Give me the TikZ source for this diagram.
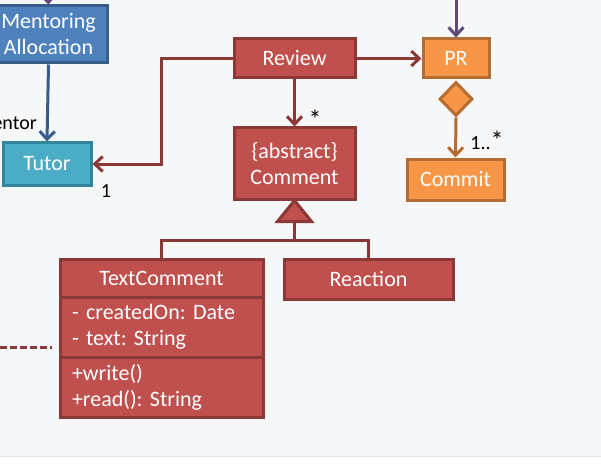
\documentclass[tikz,border=0pt]{standalone}
\usepackage{fontspec}
\setmainfont{Carlito}
\usepackage{tikz}
\usetikzlibrary{calc,arrows.meta,shapes.geometric}

\definecolor{redfill}{HTML}{C0504D}
\definecolor{redline}{HTML}{8C3836}
\definecolor{bluefill}{HTML}{4F81BD}
\definecolor{blueline}{HTML}{385D8A}
\definecolor{tealfill}{HTML}{4BACC6}
\definecolor{tealline}{HTML}{31859C}
\definecolor{orangefill}{HTML}{F79646}
\definecolor{orangeline}{HTML}{B66D31}
\definecolor{purpleline}{HTML}{604A7B}
\definecolor{bggray}{HTML}{F6F7F9}

\tikzset{
  box/.style={draw,line width=3pt,inner sep=0pt,text=white,align=center,
    font=\fontsize{22}{26}\selectfont\frenchspacing},
  redbox/.style={box,fill=redfill,draw=redline},
  lbl/.style={inner sep=0pt,font=\fontsize{20}{22}\selectfont},
  conn/.style={line width=3pt},
  >={Straight Barb[length=8pt,width=15pt]}
}

\begin{document}
\begin{tikzpicture}[x=1pt,y=1pt]
  \clip (0,0) rectangle (601,-465);
  \fill[white] (0,0) rectangle (601,-465);
  \fill[bggray] (0,0) rectangle (601,-456);
  \draw[gray!20] (0,-456) -- (601,-456);

  \node(alloc)[box,fill=bluefill,draw=blueline,minimum width=117pt,minimum height=57pt] at (48.5,-34.5) {Mentoring\\Allocation};
  \node(tutor)[box,fill=tealfill,draw=tealline,minimum width=88pt,minimum height=42pt] at (47,-164) {Tutor};
  \node(review)[redbox,minimum width=121pt,minimum height=39pt] at (294.5,-58.5) {Review};
  \node(comment)[redbox,minimum width=121pt,minimum height=71pt] at (294.5,-163.5) {\{abstract\}\\Comment};
  \node(pr)[box,fill=orangefill,draw=orangeline,minimum width=66pt,minimum height=39pt] at (456,-58.5) {PR};
  \node(commit)[box,fill=orangefill,draw=orangeline,minimum width=97pt,minimum height=41pt] at (455.5,-179.5) {Commit};
  \node(diam)[draw=orangeline,fill=orangefill,line width=3pt,diamond,inner sep=0pt,minimum width=33pt,minimum height=34pt,anchor=north] at ($(pr.south)+(0,-1)$) {};
  \node(tcname)[redbox,minimum width=203pt,minimum height=38pt] at (161.5,-278) {TextComment};
  \node(tcattr)[redbox,minimum width=203pt,minimum height=60pt,text width=179pt,align=left] at (161.5,-327) {- createdOn: Date\\- text: String};
  \node(tcops)[redbox,minimum width=203pt,minimum height=60pt,text width=179pt,align=left] at (161.5,-387) {+write()\\+read(): String};
  \node(reaction)[redbox,minimum width=169pt,minimum height=40pt] at (368.5,-279) {Reaction};

  \coordinate(allocin) at (48,10);
  \coordinate(prin) at (456,10);
  \coordinate(dashin) at (-20,-347);

  % incoming arrows from outside
  \draw[conn,->,purpleline] (allocin) -- (alloc.north);
  \draw[conn,->,purpleline] (prin) -- (pr.north);
  \draw[conn,->,blueline] (alloc.south) -- (tutor.north);
  \draw[conn,->,redline] (review.west) -- ++(-71,0) |- (tutor.east);
  \draw[conn,->,redline] (review.east) -- (pr.west);
  \draw[conn,->,redline] (review.south) -- (comment.north);
  \draw[conn,->,orangeline] (diam.south) -- (commit.north);
  \draw[conn,redline,dash pattern=on 7pt off 3pt] (dashin) -- ++(72,0);

  % generalization
  \draw[conn,redline,fill=redfill,line join=miter] (comment.south) -- ++(17,-21) -- ++(-34,0) -- cycle;
  \coordinate(gen) at ($(comment.south)+(0,-21)$);
  \draw[conn,redline] (gen) -- ++(0,-19) -| (tcname.north);
  \draw[conn,redline] (gen) -- ++(0,-19) -| (reaction.north);

  \node(mentorlbl)[lbl,anchor=east] at (37,-123) {mentor};
  \node(onelbl)[lbl] at (106,-191) {1};
  \node(starlbl)[lbl,font=\fontsize{26}{26}\selectfont] at (315,-119) {*};
  \node(manylbl)[lbl] at (487,-140) {1..{\fontsize{26}{26}\selectfont*}};
\end{tikzpicture}
\end{document}
